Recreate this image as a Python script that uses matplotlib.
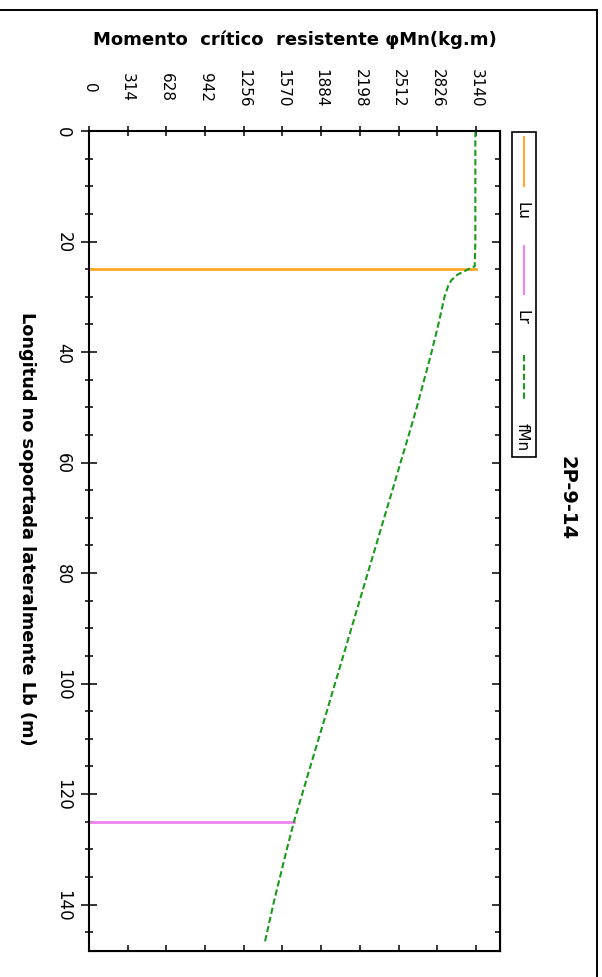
import numpy as np
import matplotlib
matplotlib.use('Agg')
import matplotlib.pyplot as plt
from matplotlib.lines import Line2D
from matplotlib.patches import Rectangle

# chart data
lb = [0, 5, 10, 15, 20, 24.5, 25, 26, 27, 28, 30, 35, 40, 45, 50, 55, 60, 65, 70, 75,
      80, 85, 90, 95, 100, 105, 110, 115, 120, 125, 130, 135, 140, 145, 147]
fmn = [3135, 3135, 3135, 3135, 3135, 3130, 3080, 2990, 2940, 2915, 2885, 2835, 2780, 2720, 2660, 2595, 2528, 2462, 2395, 2329,
       2262, 2196, 2129, 2063, 1996, 1930, 1863, 1796, 1730, 1663, 1605, 1550, 1495, 1445, 1425]
Lu = 25
Lu_mn = 3140
Lr = 125
Lr_mn = 1663
mn_ticks = [0, 314, 628, 942, 1256, 1570, 1884, 2198, 2512, 2826, 3140]
lb_ticks = [0, 20, 40, 60, 80, 100, 120, 140]
series_names = ['Lu', 'Lr', 'fMn']
title = '2P-9-14'
xlab = 'Longitud no soportada lateralmente Lb (m)'
ylab = 'Momento  crítico  resistente φMn(kg.m)'

W, H = 602, 978
fig = plt.figure(figsize=(W / 100, H / 100), dpi=100)

def fx(px):
    return px / W

def fy(py):
    return 1 - py / H

 # the whole chart is turned a quarter turn clockwise, so moment runs left->right and Lb runs down
ax = fig.add_axes([fx(89), fy(952), fx(500) - fx(89), fy(132) - fy(952)])
ax.plot([0, Lu_mn], [Lu, Lu], color='#ffa726', lw=2)
ax.plot([0, Lr_mn], [Lr, Lr], color='#ee82ee', lw=2)
ax.plot(fmn, lb, color='#1a9a1a', lw=1.5, linestyle=(0, (3, 1.5)))

ax.set_xlim(0, 3335)
ax.set_ylim(148.4, 0)

ax.xaxis.tick_top()
ax.set_xticks(mn_ticks)
ax.set_xticklabels([str(t) for t in mn_ticks], rotation=270, ha='center', va='center', fontsize=11)
ax.set_yticks(lb_ticks)
ax.set_yticks(np.arange(0, 149, 5), minor=True)
ax.set_yticklabels([str(t) for t in lb_ticks], rotation=270, ha='center', va='center', fontsize=12)
ax.tick_params(axis='x', which='major', direction='inout', length=7.5, width=1.1, pad=28, bottom=False, top=True)
ax.tick_params(axis='y', which='major', direction='inout', length=12, width=1.1, pad=12.5, right=False)
ax.tick_params(axis='y', which='minor', direction='inout', length=6, width=1.1, right=False)
for s in ax.spines.values():
    s.set_linewidth(1.5)

 # inward ticks on the opposite sides
sec_x = ax.secondary_xaxis('bottom')
sec_x.set_xticks(mn_ticks)
sec_x.tick_params(direction='in', length=4.5, width=1.1, labelbottom=False)
sec_y = ax.secondary_yaxis('right')
sec_y.set_yticks(lb_ticks)
sec_y.set_yticks(np.arange(0, 149, 5), minor=True)
sec_y.tick_params(which='major', direction='in', length=6, width=1.1, labelright=False)
sec_y.tick_params(which='minor', direction='in', length=3.5, width=1.1)

 # axis titles
ax.xaxis.set_label_position('top')
ax.set_xlabel(ylab, fontsize=13, fontweight='bold')
ax.xaxis.set_label_coords(0.5, (952 - 40) / (952 - 132))
ax.xaxis.label.set_va('center')
ax.set_ylabel(xlab, fontsize=12.8, fontweight='bold', rotation=270)
ax.yaxis.set_label_coords((27 - 89) / 411, (952 - 529) / (952 - 132))
ax.yaxis.label.set_va('center')
ax.yaxis.label.set_ha('center')

fig.text(fx(567), fy(498), title, rotation=270, ha='center', va='center', fontsize=14, fontweight='bold')

 # legend drawn by hand since it is turned too
fig.add_artist(Rectangle((fx(512), fy(458)), fx(536) - fx(512), fy(133) - fy(458),
                         fill=False, lw=1.2, edgecolor='black', transform=fig.transFigure))
leg_lines = [(138, 187, '#ffa726', '-'), (247, 295, '#ee82ee', '-'), (356, 402, '#1a9a1a', (0, (3, 1.5)))]
leg_text_y = [211, 317, 437]
for (y0, y1, c, ls), ty, name in zip(leg_lines, leg_text_y, series_names):
    fig.add_artist(Line2D([fx(523.5), fx(523.5)], [fy(y0), fy(y1)], color=c, lw=1.5, linestyle=ls,
                          transform=fig.transFigure))
    fig.text(fx(522), fy(ty), name, rotation=270, ha='center', va='center', fontsize=11)

 # outer frame, only top and right edge show
fig.add_artist(Line2D([0, fx(597)], [fy(11), fy(11)], color='black', lw=1.4, transform=fig.transFigure))
fig.add_artist(Line2D([fx(597), fx(597)], [fy(11), 0], color='black', lw=1.4, transform=fig.transFigure))

fig.savefig('out.png', dpi=100)
